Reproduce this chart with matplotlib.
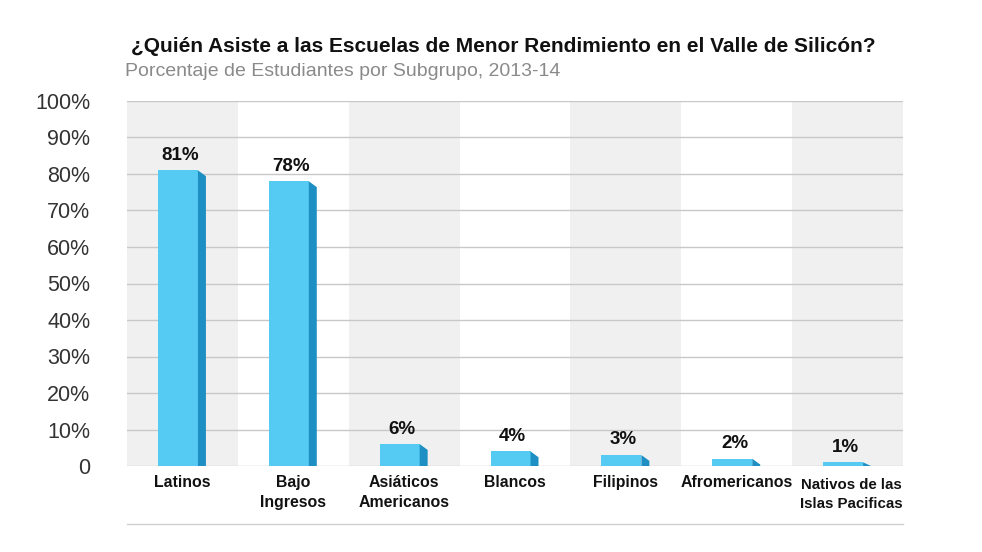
import matplotlib
matplotlib.use("Agg")
import matplotlib.pyplot as plt
from matplotlib.patches import Polygon

categories = ["Latinos", "Bajo\nIngresos", "Asiáticos\nAmericanos", "Blancos",
              "Filipinos", "Afromericanos", "Nativos de las\nIslas Pacificas"]
values = [81, 78, 6, 4, 3, 2, 1]
value_labels = ["81%", "78%", "6%", "4%", "3%", "2%", "1%"]
yticks = [0, 10, 20, 30, 40, 50, 60, 70, 80, 90, 100]
ytick_labels = ["0", "10%", "20%", "30%", "40%", "50%", "60%", "70%", "80%", "90%", "100%"]

plt.rcParams['font.family'] = ['Liberation Sans', 'DejaVu Sans']

FRONT = "#55cbf3"
SIDE = "#1e8fc2"
BAND = "#f0f0f0"
GRID = "#c8c8c8"

fig = plt.figure(figsize=(9.82, 5.52), dpi=100)
ax = fig.add_axes([127/982, 1-466/552, 776/982, 365/552])
ax.set_xlim(-0.5, len(categories) - 0.5)
ax.set_ylim(0, 100)

# alternating bands
for i in range(0, len(categories), 2):
    ax.axvspan(i - 0.5, i + 0.5, color=BAND, zorder=0, lw=0)

for t in yticks:
    ax.axhline(t, color=GRID, lw=1, zorder=1)

front_w = 0.36
off = -0.04
depth = 0.072
slant = 1.6
for i, v in enumerate(values):
    left = i + off - front_w / 2
    right = left + front_w
    ax.bar(i + off, v, width=front_w, color=FRONT, zorder=3, lw=0)
    top2 = max(v - slant, 0)
    side = Polygon([(right, 0), (right, v), (right + depth, top2), (right + depth, 0)],
                   closed=True, facecolor=SIDE, edgecolor='none', zorder=3)
    ax.add_patch(side)
    ax.text(i + off + 0.02, v + 1.8, value_labels[i], ha='center', va='bottom',
            fontsize=13.5, fontweight='bold', color='#111111', zorder=4)

for s in ax.spines.values():
    s.set_visible(False)

ax.set_yticks(yticks)
ax.set_yticklabels(ytick_labels, fontsize=15.5, color='#333333')
ax.tick_params(axis='y', length=0, pad=26.5)
ax.set_xticks([])
for lab in ax.get_yticklabels():
    lab.set_ha('right')

for i, c in enumerate(categories):
    if i == len(categories) - 1:
        ax.text(i + 0.5, -3.2, c, ha='right', va='top', fontsize=10.8,
                fontweight='bold', multialignment='center', color='#111111',
                linespacing=1.45, clip_on=False)
    else:
        ax.text(i, -2.6, c, ha='center', va='top', fontsize=11.4,
                fontweight='bold', multialignment='center', color='#111111',
                linespacing=1.35, clip_on=False)

# bottom separator line
fig.add_artist(plt.Line2D([127/982, 903/982], [1-524/552, 1-524/552],
                          color='#d0d0d0', lw=1))

fig.text(131/982, 1-47/552, "¿Quién Asiste a las Escuelas de Menor Rendimiento en el Valle de Silicón?",
         fontsize=15, fontweight='bold', color='#111111', va='center', ha='left')
fig.text(125/982, 1-72/552, "Porcentaje de Estudiantes por Subgrupo, 2013-14",
         fontsize=14, color='#8a8a8a', va='center', ha='left')

fig.savefig("out.png", dpi=100)
